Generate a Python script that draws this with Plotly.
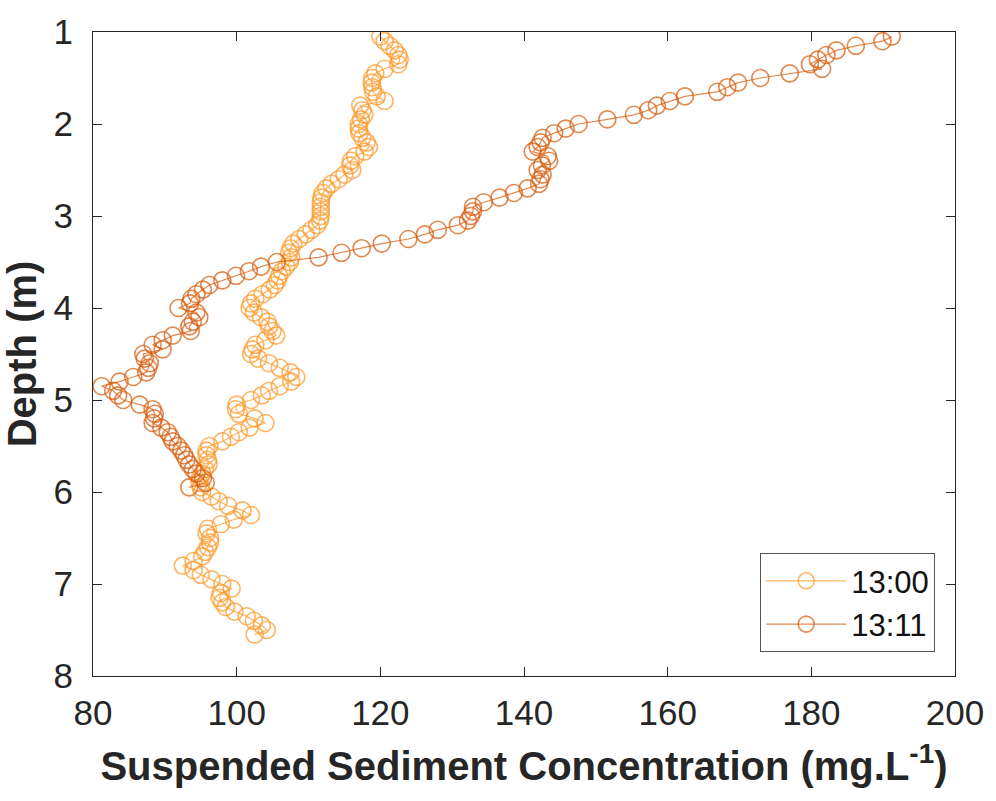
import plotly.graph_objects as go

# Suspended sediment concentration profiles (mg/L) against depth (m)
depth_1300 = [
    1.05, 1.10, 1.15, 1.20, 1.25, 1.30, 1.35, 1.40, 1.45, 1.50,
    1.55, 1.60, 1.65, 1.70, 1.75, 1.80, 1.85, 1.90, 1.95, 2.00,
    2.05, 2.10, 2.15, 2.20, 2.25, 2.30, 2.35, 2.40, 2.45, 2.50,
    2.55, 2.60, 2.65, 2.70, 2.75, 2.80, 2.85, 2.90, 2.95, 3.00,
    3.05, 3.10, 3.15, 3.20, 3.25, 3.30, 3.35, 3.40, 3.45, 3.50,
    3.55, 3.60, 3.65, 3.70, 3.75, 3.80, 3.85, 3.90, 3.95, 4.00,
    4.05, 4.10, 4.15, 4.20, 4.25, 4.30, 4.35, 4.40, 4.45, 4.50,
    4.55, 4.60, 4.65, 4.70, 4.75, 4.80, 4.85, 4.90, 4.95, 5.00,
    5.05, 5.10, 5.15, 5.20, 5.25, 5.30, 5.35, 5.40, 5.45, 5.50,
    5.55, 5.60, 5.65, 5.70, 5.75, 5.80, 5.85, 5.90, 5.95, 6.00,
    6.05, 6.10, 6.15, 6.20, 6.25, 6.30, 6.35, 6.40, 6.45, 6.50,
    6.55, 6.60, 6.65, 6.70, 6.75, 6.80, 6.85, 6.90, 6.95, 7.00,
    7.05, 7.10, 7.15, 7.20, 7.25, 7.30, 7.35, 7.40, 7.45, 7.50,
    7.55,
]
ssc_1300 = [
    120.0, 120.6, 121.3, 122.0, 122.5, 122.7, 122.5, 120.6, 119.3, 118.9,
    118.8, 118.9, 119.0, 119.5, 120.6, 117.2, 117.5, 117.8, 117.3, 117.0,
    117.0, 117.1, 117.5, 118.1, 118.4, 117.8, 116.5, 115.9, 115.8, 116.1,
    115.0, 114.2, 113.2, 112.5, 112.0, 111.8, 111.7, 111.7, 111.7, 111.7,
    111.6, 111.2, 110.4, 109.6, 108.7, 107.9, 107.5, 107.3, 107.6, 107.4,
    106.9, 106.3, 105.9, 105.7, 105.3, 104.6, 103.6, 102.6, 102.0, 101.8,
    102.4, 103.4, 104.3, 104.5, 105.0, 105.5, 104.0, 102.6, 102.2, 102.0,
    103.0, 104.5, 106.0, 107.5, 108.3, 107.6, 106.0, 104.5, 103.5, 102.0,
    100.0, 99.9, 100.3, 102.5, 104.0, 101.8, 100.3, 99.2, 98.0, 96.2,
    95.8, 95.8, 96.0, 96.1, 95.6, 95.2, 94.9, 94.8, 95.0, 95.2,
    96.5, 97.5, 98.8, 100.8, 102.0, 99.6, 97.8, 96.0, 95.8, 96.3,
    96.3, 96.0, 95.6, 95.2, 94.0, 92.5, 94.0, 95.0, 96.5, 98.0,
    99.3, 97.8, 97.6, 98.0, 98.5, 99.7, 101.4, 102.4, 103.5, 104.2,
    102.5,
]

depth_1311 = [
    1.05, 1.10, 1.15, 1.20, 1.25, 1.30, 1.35, 1.40, 1.45, 1.50,
    1.55, 1.60, 1.65, 1.70, 1.75, 1.80, 1.85, 1.90, 1.95, 2.00,
    2.05, 2.10, 2.15, 2.20, 2.25, 2.30, 2.35, 2.40, 2.45, 2.50,
    2.55, 2.60, 2.65, 2.70, 2.75, 2.80, 2.85, 2.90, 2.95, 3.00,
    3.05, 3.10, 3.15, 3.20, 3.25, 3.30, 3.35, 3.40, 3.45, 3.50,
    3.55, 3.60, 3.65, 3.70, 3.75, 3.80, 3.85, 3.90, 3.95, 4.00,
    4.05, 4.10, 4.15, 4.20, 4.25, 4.30, 4.35, 4.40, 4.45, 4.50,
    4.55, 4.60, 4.65, 4.70, 4.75, 4.80, 4.85, 4.90, 4.95, 5.00,
    5.05, 5.10, 5.15, 5.20, 5.25, 5.30, 5.35, 5.40, 5.45, 5.50,
    5.55, 5.60, 5.65, 5.70, 5.75, 5.80, 5.85, 5.90, 5.95,
]
ssc_1311 = [
    191.2, 189.9, 186.2, 183.5, 182.1, 180.9, 179.8, 181.5, 177.0, 172.9,
    169.8, 168.3, 166.9, 162.4, 160.3, 158.5, 157.3, 155.3, 151.6, 147.6,
    145.8, 144.2, 142.6, 142.3, 141.9, 141.2, 143.3, 143.5, 142.5, 141.9,
    142.6, 142.3, 142.1, 140.5, 138.6, 136.6, 134.4, 132.9, 132.9, 132.6,
    132.2, 130.8, 128.0, 126.2, 123.9, 120.2, 117.4, 114.6, 111.4, 105.6,
    103.4, 101.7, 99.9, 98.0, 96.2, 95.3, 94.4, 93.7, 93.5, 91.9,
    94.4, 94.8, 93.9, 93.4, 93.6, 91.1, 89.7, 88.3, 89.7, 87.0,
    87.2, 87.9, 87.7, 87.4, 85.6, 83.7, 81.2, 82.8, 83.5, 84.2,
    86.5, 88.3, 88.6, 88.5, 88.3, 89.5, 90.4, 90.8, 91.1, 91.8,
    92.3, 92.7, 93.0, 93.4, 93.9, 94.4, 95.3, 95.7, 93.4,
]

series_names = ["13:00", "13:11"]
x_ticks = [80, 100, 120, 140, 160, 180, 200]
y_ticks = [1, 2, 3, 4, 5, 6, 7, 8]

col_1300 = "rgba(253,152,40,0.72)"
col_1311 = "rgba(215,92,12,0.72)"

fig = go.Figure()
for name, xs, ys, col in [
    (series_names[0], ssc_1300, depth_1300, col_1300),
    (series_names[1], ssc_1311, depth_1311, col_1311),
]:
    fig.add_trace(go.Scatter(
        x=xs, y=ys, name=name, mode="lines+markers",
        line=dict(color=col, width=1.2),
        marker=dict(symbol="circle-open", size=17, color=col,
                    line=dict(width=1.6, color=col)),
    ))

axis_font = dict(family="Liberation Sans, Arial, sans-serif", size=35, color="#262626")
title_font = dict(family="Liberation Sans, Arial, sans-serif", size=40, color="#262626")

fig.update_xaxes(
    range=[80, 200], tickvals=x_ticks, ticktext=[str(v) for v in x_ticks],
    ticks="inside", ticklen=9, tickwidth=1, tickcolor="#262626",
    showline=True, linecolor="#262626", linewidth=1.2, mirror="ticks",
    showgrid=False, zeroline=False, tickfont=axis_font, ticklabelstandoff=6,
    title=dict(text="<b>Suspended Sediment Concentration (mg.L<sup>-1</sup>)</b>",
               font=title_font, standoff=20),
)
fig.update_yaxes(
    range=[8, 1], tickvals=y_ticks, ticktext=[str(v) for v in y_ticks],
    ticks="inside", ticklen=9, tickwidth=1, tickcolor="#262626",
    showline=True, linecolor="#262626", linewidth=1.2, mirror="ticks",
    showgrid=False, zeroline=False, tickfont=axis_font, ticklabelstandoff=12,
    title=dict(text="<b>Depth (m)</b>", font=title_font, standoff=4),
)

fig.update_layout(
    width=996, height=801,
    margin=dict(l=93, r=36, t=22, b=125),
    paper_bgcolor="white", plot_bgcolor="white",
    legend=dict(
        x=0.977, y=0.037, xanchor="right", yanchor="bottom",
        bgcolor="white", bordercolor="#555555", borderwidth=1,
        font=dict(family="Liberation Sans, Arial, sans-serif", size=31, color="#111111"),
        itemwidth=80, tracegroupgap=4,
    ),
)

fig.write_html("out.html")
